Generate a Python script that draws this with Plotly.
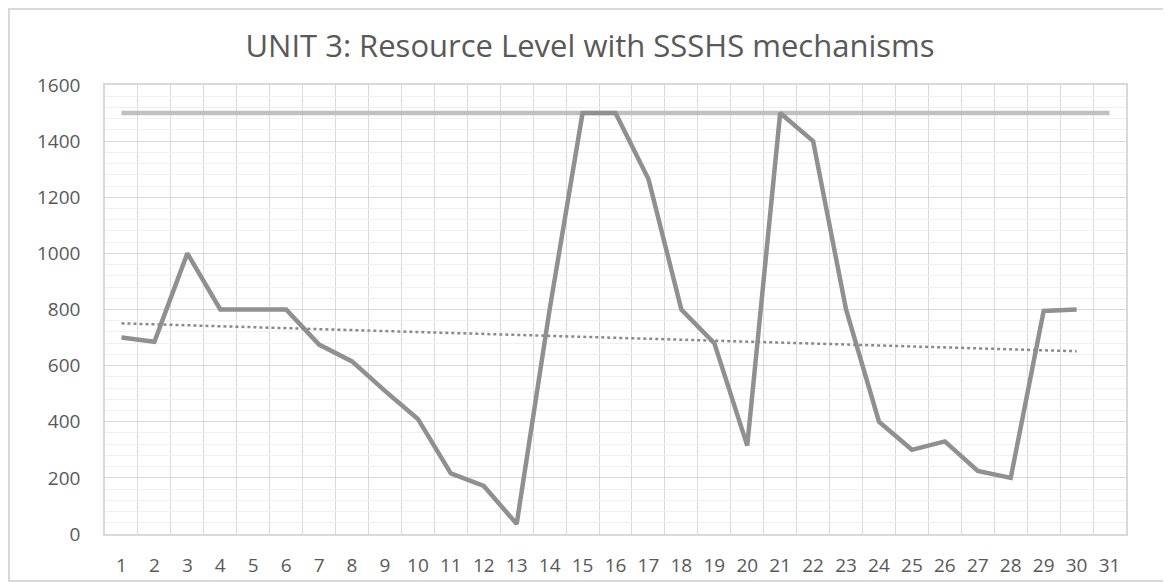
import numpy as np
import plotly.graph_objects as go

periods = list(range(1, 32))
resource_level = [700, 685, 1000, 800, 800, 800, 675, 615, 510, 410,
                  216, 171, 36, 800, 1500, 1500, 1265, 800, 680, 315,
                  1500, 1400, 800, 400, 300, 330, 225, 200, 795, 800]
max_level = [1500] * 31
tick_labels = [str(p) for p in periods]

x_res = periods[:len(resource_level)]
coef = np.polyfit(x_res, resource_level, 1)
trend = [coef[0] * x + coef[1] for x in x_res]

# page has an 8px body margin; figure coordinates = page coordinates - 8
OFF = 8
W, H = 1171 - OFF, 582 - OFF
L, R, T, B = 105 - OFF, 1126 - OFF, 85 - OFF, 534 - OFF

fig = go.Figure()
fig.add_trace(go.Scatter(x=periods, y=max_level, mode="lines",
                         line=dict(color="#c0c0c0", width=4.5), hoverinfo="skip"))
fig.add_trace(go.Scatter(x=x_res, y=resource_level, mode="lines",
                         line=dict(color="#909090", width=4.5)))
fig.add_trace(go.Scatter(x=x_res, y=trend, mode="lines",
                         line=dict(color="#8a8a8a", width=2.5, dash="dot")))

def px_x(p):
    return (p - L) / (R - L)

def px_y(p):
    return (B - p) / (B - T)

fig.add_shape(type="rect", xref="paper", yref="paper",
              x0=px_x(1), x1=px_x(W + 20), y0=px_y(581 - OFF), y1=px_y(1),
              line=dict(color="#d9d9d9", width=2), layer="below")

fig.update_layout(
    width=W, height=H,
    margin=dict(l=L, r=W - R, t=T, b=H - B, autoexpand=False),
    paper_bgcolor="white", plot_bgcolor="white",
    showlegend=False,
    title=dict(text="UNIT 3: Resource Level with SSSHS mechanisms",
               x=(590 - OFF) / W, xanchor="center", y=1 - (46 - OFF) / H, yanchor="middle",
               font=dict(family="Open Sans", size=31, color="#595959")),
    font=dict(family="Open Sans", color="#595959"),
)
fig.update_xaxes(range=[0.5, 31.5], tickmode="array", tickvals=periods,
                 ticktext=tick_labels, showgrid=False, ticks="",
                 tickfont=dict(size=19, color="#595959"), automargin=False,
                 showline=True, linecolor="#d9d9d9", linewidth=1.5, mirror=True,
                 zeroline=False, ticklabelstandoff=13,
                 minor=dict(tick0=0.5, dtick=1, showgrid=True,
                            gridcolor="#d9d9d9", gridwidth=1))
fig.update_yaxes(range=[0, 1600], dtick=200, showgrid=True,
                 gridcolor="#d9d9d9", gridwidth=1.2, ticks="",
                 tickfont=dict(size=19, color="#595959"), automargin=False,
                 showline=True, linecolor="#d9d9d9", linewidth=1.5, mirror=True,
                 zeroline=False, ticklabelstandoff=19,
                 minor=dict(dtick=40, showgrid=True, gridcolor="#f0f0f0", gridwidth=1))

fig.write_html("out.html")
